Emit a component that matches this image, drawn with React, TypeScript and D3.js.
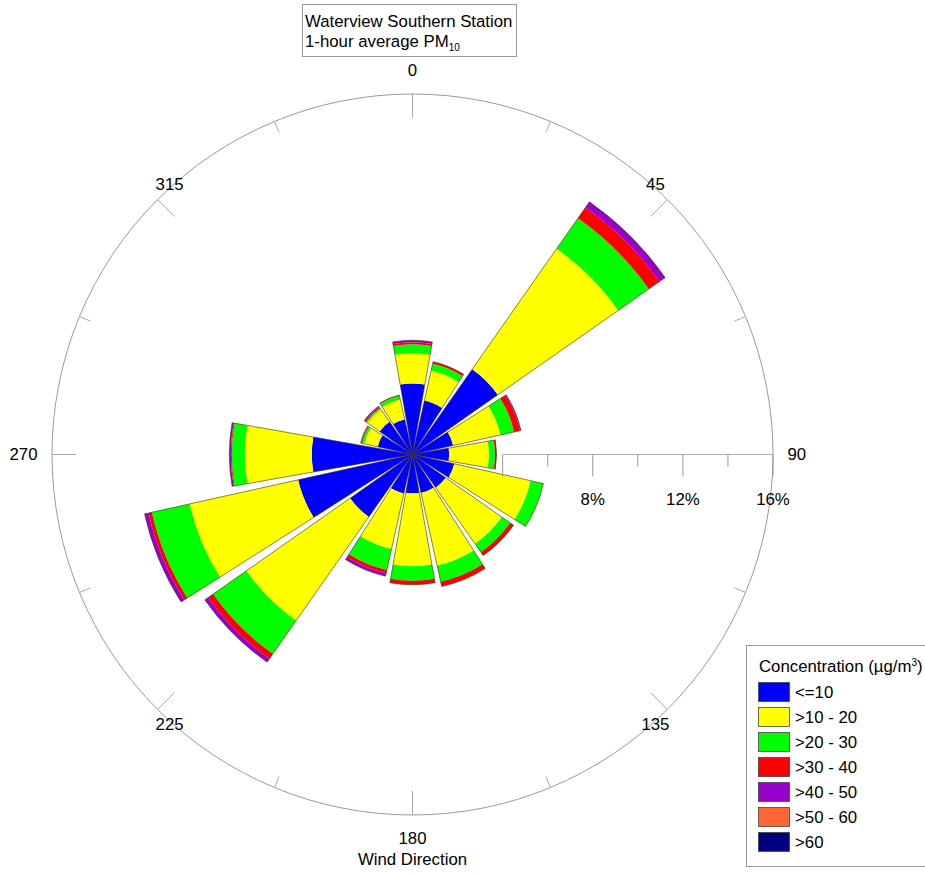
import React from "react";
import * as d3 from "d3";

// ---------- DATA ----------
const directions = [0, 22.5, 45, 67.5, 90, 112.5, 135, 157.5, 180, 202.5, 225, 247.5, 270, 292.5, 315, 337.5];
const classLabels = ["<=10", ">10 - 20", ">20 - 30", ">30 - 40", ">40 - 50", ">50 - 60", ">60"];
const classColors = ["#0000ff", "#ffff00", "#00ff00", "#ff0000", "#9900cc", "#ff6633", "#000080"];
// frequency (%) per direction for each concentration class
const pctLe10 = [3.15, 2.45, 4.62, 1.85, 1.63, 1.9, 1.8, 1.75, 1.72, 1.78, 3.38, 5.2, 4.47, 1.58, 1.78, 1.6];
const pct10to20 = [1.34, 1.37, 6.53, 2.15, 1.76, 3.47, 3.04, 3.3, 3.24, 2.52, 5.62, 4.93, 2.97, 0.62, 0.67, 0.9];
const pct20to30 = [0.4, 0.31, 1.65, 0.62, 0.27, 0.58, 0.45, 0.73, 0.64, 0.95, 1.8, 1.72, 0.58, 0.1, 0.07, 0.17];
const pct30to40 = [0.09, 0.09, 0.58, 0.27, 0.07, 0.0, 0.18, 0.22, 0.18, 0.15, 0.27, 0.15, 0.04, 0.04, 0.05, 0.03];
const pct40to50 = [0.09, 0.0, 0.31, 0.04, 0.0, 0.0, 0.0, 0.0, 0.0, 0.13, 0.18, 0.18, 0.07, 0.02, 0.05, 0.0];
const pct50to60 = [0, 0, 0, 0, 0, 0, 0, 0, 0, 0, 0, 0, 0, 0, 0, 0];
const pctGt60 = [0, 0, 0, 0, 0, 0, 0, 0, 0, 0, 0, 0, 0, 0, 0, 0];
const radialTicks = [4, 6, 8, 10, 12, 14, 16];
const radialTickLabels = [8, 12, 16];
const directionTicks = [0, 22.5, 45, 67.5, 90, 112.5, 135, 157.5, 180, 202.5, 225, 247.5, 270, 292.5, 315, 337.5];
const directionLabels = [0, 45, 90, 135, 180, 225, 270, 315];
const titleLine1 = "Waterview Southern Station";
const titleLine2 = "1-hour average PM";
const titleSub = "10";
const legendTitle = "Concentration (µg/m";
const axisTitle = "Wind Direction";

// ---------- LAYOUT ----------
const W = 925;
const H = 875;
const cx = 412.5;
const cy = 454.5;
const R = 360.5;
const FONT = "Arial, 'Liberation Sans', Helvetica, sans-serif";
const FS = 16.8;

export default function App() {
  const series = [pctLe10, pct10to20, pct20to30, pct30to40, pct40to50, pct50to60, pctGt60];
  const keys = classLabels;
  const rows = directions.map((d, i) => {
    const o: any = { dir: d };
    keys.forEach((k, j) => (o[k] = series[j][i]));
    return o;
  });
  const stacked = d3.stack<any>().keys(keys)(rows);
  const r = d3.scaleLinear().domain([0, 16]).range([0, R]);
  const half = 10; // half wedge width in degrees
  const rad = (deg: number) => (deg * Math.PI) / 180;
  const arc = d3.arc<any>();

  const bands: JSX.Element[] = [];
  stacked.forEach((layer, k) => {
    layer.forEach((seg, i) => {
      const [a, b] = seg;
      if (b - a <= 0) return;
      const d = directions[i];
      const p = arc({
        innerRadius: r(a),
        outerRadius: r(b),
        startAngle: rad(d - half),
        endAngle: rad(d + half),
      });
      bands.push(<path key={`b${k}-${i}`} d={p || ""} fill={classColors[k]} stroke="none" />);
    });
  });
  const totals = directions.map((_, i) => stacked[stacked.length - 1][i][1]);
  const outlines = directions.map((d, i) => (
    <path
      key={`o${i}`}
      d={arc({ innerRadius: 0, outerRadius: r(totals[i]), startAngle: rad(d - half), endAngle: rad(d + half) }) || ""}
      fill="none"
      stroke="#3a3000"
      strokeWidth={0.6}
    />
  ));

  const labelPos = (deg: number) => {
    const s = Math.sin(rad(deg));
    const c = Math.cos(rad(deg));
    const cardinal = Math.abs(s) > 0.99 || Math.abs(c) > 0.99;
    const rx = cardinal ? 375 : 343.5;
    const ry = cardinal ? 384 : 382;
    const x = cx + s * rx;
    const y = cy - c * ry;
    const anchor = s > 0.99 ? "start" : s < -0.99 ? "end" : "middle";
    return { x, y, anchor };
  };

  return (
    <svg width={W} height={H} style={{ display: "block", position: "absolute", left: 0, top: 0, background: "#fff" }} fontFamily={FONT}>
      <rect x={0} y={0} width={W} height={H} fill="#fff" />
      {/* outer circle */}
      <circle cx={cx} cy={cy} r={R} fill="none" stroke="#9a9a9a" strokeWidth={1} />
      {directionTicks.map((d) => {
        const len = d % 45 === 0 ? 24 : 12;
        const s = Math.sin(rad(d));
        const c = Math.cos(rad(d));
        return (
          <line
            key={`dt${d}`}
            x1={cx + s * (R - len)}
            y1={cy - c * (R - len)}
            x2={cx + s * R}
            y2={cy - c * R}
            stroke="#a8a8a8"
            strokeWidth={1}
          />
        );
      })}
      {directionLabels.map((d) => {
        const p = labelPos(d);
        return (
          <text key={`dl${d}`} x={p.x} y={p.y} textAnchor={p.anchor} dominantBaseline="central" fontSize={FS} fill="#000">
            {d}
          </text>
        );
      })}
      {/* wedges */}
      <g transform={`translate(${cx},${cy})`}>
        {bands}
        {outlines}
      </g>
      {/* radial axis */}
      <line x1={cx + r(radialTicks[0])} y1={cy} x2={cx + r(16)} y2={cy} stroke="#b0b0b0" strokeWidth={1} />
      {radialTicks.map((t) => (
        <line
          key={`rt${t}`}
          x1={cx + r(t)}
          y1={cy}
          x2={cx + r(t)}
          y2={cy + (t % 4 === 0 ? 22 : 12)}
          stroke="#999"
          strokeWidth={1}
        />
      ))}
      {radialTickLabels.map((t) => (
        <text key={`rl${t}`} x={cx + r(t)} y={cy + 45} textAnchor="middle" dominantBaseline="central" fontSize={FS}>
          {`${t}%`}
        </text>
      ))}
      <text x={cx} y={cy + 405} textAnchor="middle" dominantBaseline="central" fontSize={FS}>
        {axisTitle}
      </text>
      {/* title box */}
      <rect x={302.5} y={4.5} width={214} height={52} fill="#fff" stroke="#999" strokeWidth={1} />
      <text x={305} y={27} fontSize={FS}>
        {titleLine1}
      </text>
      <text x={305} y={47} fontSize={FS}>
        {titleLine2}
        <tspan fontSize={10} dy={4}>
          {titleSub}
        </tspan>
      </text>
      {/* legend */}
      <rect x={746.5} y={645.5} width={200} height={221} fill="#fff" stroke="#999" strokeWidth={1} />
      <text x={759} y={672} fontSize={FS}>
        {legendTitle}
        <tspan fontSize={10} dy={-6}>
          3
        </tspan>
        <tspan dy={6}>)</tspan>
      </text>
      {classLabels.map((lab, i) => (
        <g key={`lg${i}`}>
          <rect x={758.5} y={682.5 + i * 25} width={31} height={19} fill={classColors[i]} stroke="#444" strokeWidth={0.8} />
          <text x={795} y={692 + i * 25} dominantBaseline="central" fontSize={FS}>
            {lab}
          </text>
        </g>
      ))}
    </svg>
  );
}
